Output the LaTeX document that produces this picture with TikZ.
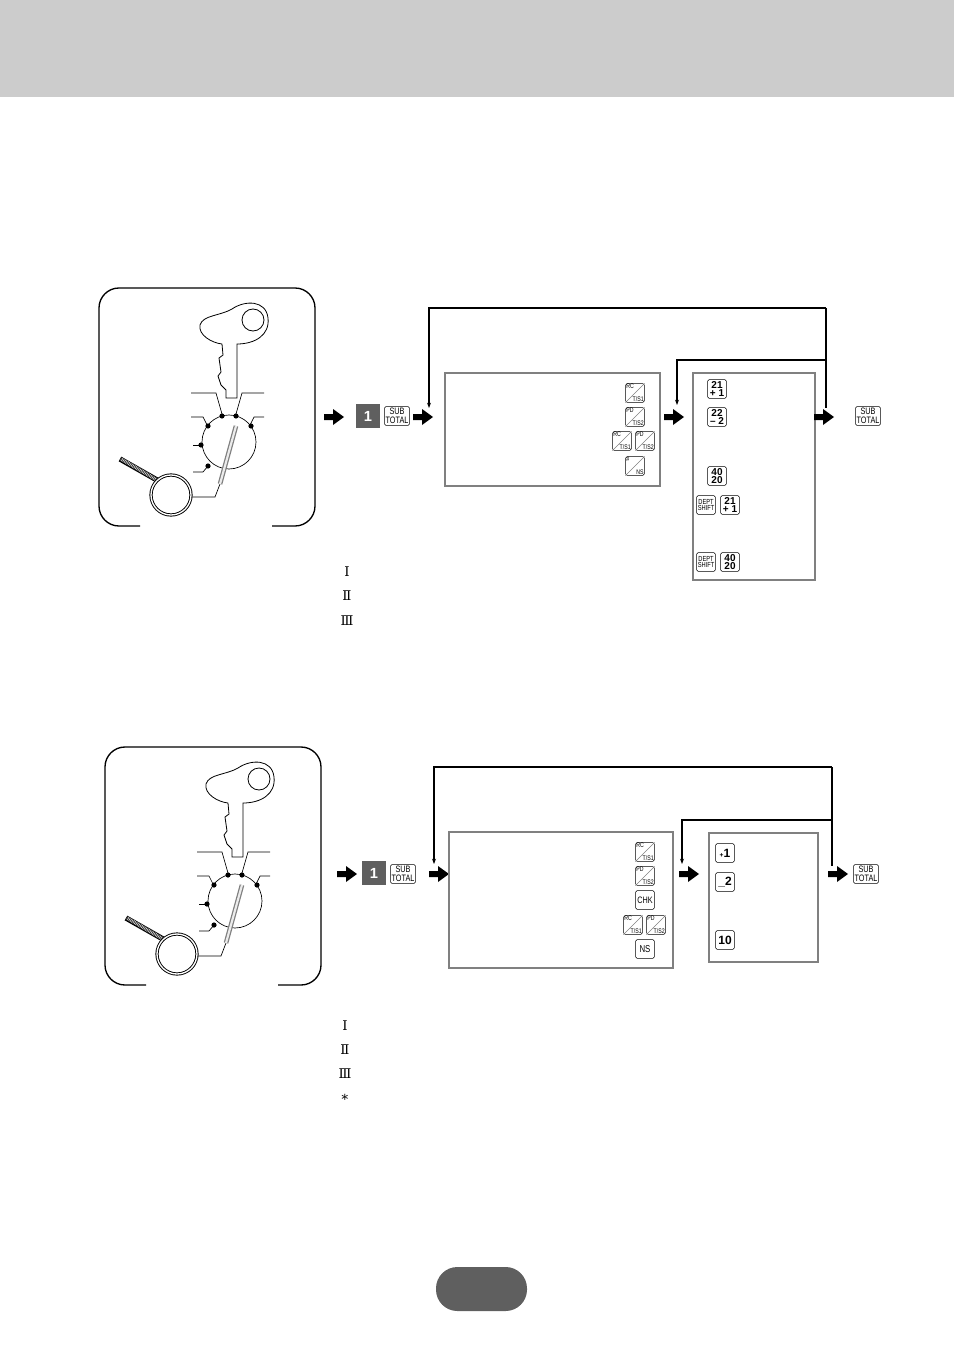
\documentclass[tikz,border=0pt]{standalone}
\usepackage{fontspec}
\setsansfont{Liberation Sans}
\newfontfamily\symfont{DejaVu Serif}
\newfontfamily\narrowfont[FakeStretch=0.78]{Liberation Sans}
\usepackage{tikz}
\usetikzlibrary{arrows.meta}
\definecolor{bandgray}{HTML}{CCCCCC}
\definecolor{pillgray}{HTML}{5F5F5F}
\definecolor{boxgray}{HTML}{808080}
\tikzstyle{keycap} = [draw, rounded corners=1pt, minimum width=14pt, minimum height=14pt, inner sep=0.6pt, font=\sffamily\fontsize{6}{5.5}\selectfont, align=center]
\tikzstyle{subkey} = [keycap, font=\narrowfont\fontsize{7}{6.5}\selectfont, inner sep=0.8pt]
\tikzstyle{shiftkey} = [keycap, font=\narrowfont\fontsize{5.5}{5}\selectfont]
\tikzstyle{numkey} = [keycap, font=\sffamily\bfseries\fontsize{7.5}{6}\selectfont]
\tikzstyle{tinylab} = [inner sep=0.5pt, font=\narrowfont\fontsize{5}{5}\selectfont]
\tikzstyle{onekey} = [fill=pillgray, text=white, minimum width=18pt, minimum height=18pt, font=\sffamily\bfseries\fontsize{11}{11}\selectfont]
\tikzstyle{frame} = [draw=boxgray, line width=0.9pt]
\tikzstyle{loop} = [line width=0.8pt]
\tikzstyle{roman} = [font=\symfont\fontsize{10}{10}\selectfont]
\newcommand{\slkey}[4]{%
  \node[keycap] (#1) at #2 {};
  \draw[gray] (#1.south west) -- (#1.north east);
  \node[tinylab, anchor=north west] at (#1.north west) {#3};
  \node[tinylab, anchor=south east] at (#1.south east) {#4};}
\newcommand{\bigarrow}[2]{%
  \coordinate (#1) at #2;
  \fill (#1) ++(-10,-3) -- ++(9,0) -- ++(0,-5) -- ++(11,8) -- ++(-11,8) -- ++(0,-5) -- ++(-9,0) -- cycle;}
\newcommand{\keypanel}[1]{%
  \begin{scope}[shift={#1}]
    % panel frame
    \draw[line width=1pt, rounded corners=15pt] (140,526) -- (99,526) -- (99,288) -- (315,288) -- (315,526) -- (272,526);
    % key
    \draw[line width=0.6pt] (222,344) -- (223,355) -- (219,358) -- (221,372) -- (218,376) -- (221,385)
      -- (226,390) -- (226,398) -- (237,398) -- (237,344)
      .. controls (255,344) and (270,335) .. (268,318) .. controls (266,300) and (245,300) .. (232,309)
      .. controls (220,316) and (203,315) .. (200,325) .. controls (198,335) and (212,343) .. (222,344);
    \draw[line width=0.6pt] (253,320) circle[radius=11];
    % dial
    \draw[line width=0.5pt] (229,442) circle[radius=27];
    \draw[line width=0.5pt] (191,393) -- (216,393) -- (222,414);
    \draw[line width=0.5pt] (264,393) -- (242,393) -- (236,414);
    \draw[line width=0.5pt] (191,417) -- (203,417) -- (207,425);
    \draw[line width=0.5pt] (264,417) -- (254,417) -- (250,425);
    \draw[line width=0.5pt] (193,445) -- (201,445);
    \draw[line width=0.5pt] (193,472) -- (203,472) -- (208,466);
    \foreach \dx/\dy in {222/416, 236/416, 208/426, 251/426, 201/445, 208/466}
      \fill (\dx,\dy) circle[radius=2.6];
    \draw[line width=0.5pt] (220,484) -- (215,497) -- (191,497);
    \draw[line width=3.5pt, gray] (220,484) -- (236,426);
    \draw[line width=1.6pt, white!85!gray] (220,484) -- (236,426);
    % magnifier
    \draw[line width=4pt] (157,480) -- (120,459);
    \draw[line width=2.6pt, white!60!gray, dash pattern=on 0.6pt off 0.6pt] (157,480) -- (121,459);
    \fill[white] (171,495) circle[radius=20];
    \draw[line width=2.4pt] (171,495) circle[radius=20];
    \draw[line width=1pt, white] (171,495) circle[radius=20];
  \end{scope}}
\begin{document}
\begin{tikzpicture}[x=0.75pt, y=-0.75pt]
\useasboundingbox (0,0) rectangle (954,1351);
\fill[bandgray] (0,0) rectangle (954,97);
\fill[pillgray, rounded corners=16pt] (436,1267) rectangle (527,1311);

% first procedure
\keypanel{(0,0)}
\bigarrow{a1}{(334,417)}
\node[onekey] (one1) at (368,416) {1};
\node[subkey] (sub1) at (397,416) {SUB\\TOTAL};
\bigarrow{a2}{(423,417)}
\draw[frame] (445,373) rectangle (660,486);
\slkey{k1}{(635,393)}{RC}{T/S1}
\slkey{k2}{(635,417)}{PD}{T/S2}
\slkey{k3}{(622,441)}{RC}{T/S1}
\slkey{k4}{(645,441)}{PD}{T/S2}
\slkey{k5}{(635,466)}{\#}{NS}
\bigarrow{a3}{(674,417)}
\draw[frame] (693,373) rectangle (815,580);
\node[numkey] (d1) at (717,389) {21\\+ 1};
\node[numkey] (d2) at (717,417) {22\\{--} 2};
\node[numkey] (d3) at (717,476) {40\\20};
\node[shiftkey] (s1) at (706,505) {DEPT\\SHIFT};
\node[numkey] (d4) at (730,505) {21\\+ 1};
\node[shiftkey] (s2) at (706,562) {DEPT\\SHIFT};
\node[numkey] (d5) at (730,562) {40\\20};
\bigarrow{a4}{(824,417)}
\node[subkey] (sub2) at (868,416) {SUB\\TOTAL};
\coordinate (r1) at (826,308);
\coordinate (r2) at (826,360);
\draw[line width=1.5pt] (r1) -- (826,408);
\draw[loop, -{Stealth[length=4pt,width=3pt]}] (r1) -| (429,408);
\draw[loop, -{Stealth[length=4pt,width=3pt]}] (r2) -| (677,405);
\foreach \ty/\tx in {572/Ⅰ, 596/Ⅱ, 621/Ⅲ}
  \node[roman] at (347,\ty) {\tx};

% second procedure
\keypanel{(6,459)}
\bigarrow{b1}{(347,874)}
\node[onekey] (one2) at (374,873) {1};
\node[subkey] (sub3) at (403,874) {SUB\\TOTAL};
\bigarrow{b2}{(439,874)}
\draw[frame] (449,832) rectangle (673,968);
\slkey{m1}{(645,852)}{RC}{T/S1}
\slkey{m2}{(645,876)}{PD}{T/S2}
\node[keycap, font=\narrowfont\fontsize{7}{7}\selectfont] (m3) at (645,900) {CHK};
\slkey{m4}{(633,925)}{RC}{T/S1}
\slkey{m5}{(656,925)}{PD}{T/S2}
\node[keycap, font=\narrowfont\fontsize{7.5}{7}\selectfont] (m6) at (645,949) {NS};
\bigarrow{b3}{(689,874)}
\draw[frame] (709,833) rectangle (818,962);
\node[numkey, font=\sffamily\bfseries\fontsize{9}{9}\selectfont] (e1) at (725,853) {{\fontsize{5}{5}\selectfont+}1};
\node[numkey, font=\sffamily\bfseries\fontsize{9}{9}\selectfont] (e2) at (725,882) {\_2};
\node[numkey, font=\sffamily\bfseries\fontsize{9}{9}\selectfont] (e3) at (725,940) {10};
\bigarrow{b4}{(838,874)}
\node[subkey] (sub4) at (866,874) {SUB\\TOTAL};
\coordinate (q1) at (832,767);
\coordinate (q2) at (832,820);
\draw[line width=1.5pt] (q1) -- (832,866);
\draw[loop, -{Stealth[length=4pt,width=3pt]}] (q1) -| (434,864);
\draw[loop, -{Stealth[length=4pt,width=3pt]}] (q2) -| (682,864);
\foreach \ty/\tx in {1026/Ⅰ, 1050/Ⅱ, 1074/Ⅲ, 1098/∗}
  \node[roman] at (345,\ty) {\tx};
\end{tikzpicture}
\end{document}
